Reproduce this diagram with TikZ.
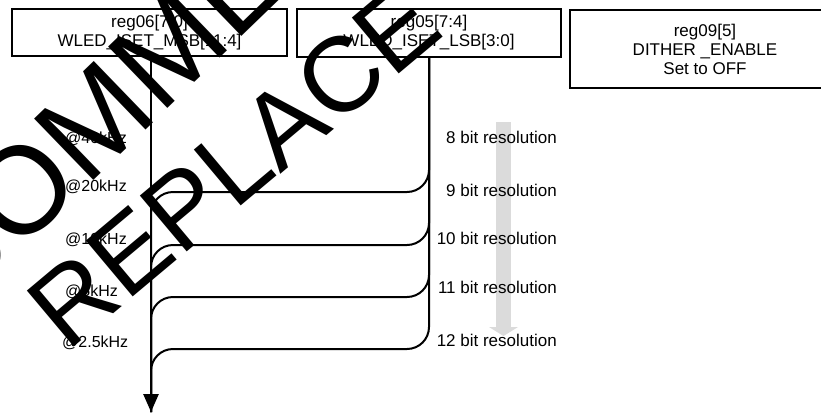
\documentclass[tikz,border=0pt]{standalone}
\usepackage{fontspec}
\setmainfont{Liberation Sans}
\usetikzlibrary{arrows.meta}
\begin{document}
\begin{tikzpicture}[x=1pt,y=-1pt,
  box/.style={draw, line width=2.4pt, inner sep=0pt, align=center, font=\fontsize{17}{19}\selectfont},
  lbl/.style={font=\fontsize{17}{19}\selectfont, inner sep=0pt, anchor=east},
  freq/.style={font=\fontsize{16}{18}\selectfont, inner sep=0pt, anchor=west},
  bus/.style={line width=2pt, rounded corners=22pt},
  wm/.style={inner sep=0pt}]
\useasboundingbox (0,0) rectangle (821,413);
\clip (0,0) rectangle (821,413);
\fill[white] (0,0) rectangle (821,413);
% gray arrow
\fill[gray!28] (496,122) rectangle (511,328);
\fill[gray!28] (489,327) -- (518,327) -- (503.5,336) -- cycle;
% boxes
\node[box, minimum width=275pt, minimum height=47pt] (b1) at (149.5,32.5) {reg06[7:0]\\WLED\_ISET\_MSB[11:4]};
\node[box, minimum width=264pt, minimum height=48pt] (b2) at (429,33) {reg05[7:4]\\WLED\_ISET\_LSB[3:0]};
\node[box, minimum width=270pt, minimum height=78pt] (b3) at (705,49) {reg09[5]\\DITHER \_ENABLE\\Set to OFF};
% coordinates
\coordinate (end) at (151,412);
\coordinate (r9) at (151,192);
\coordinate (r10) at (151,245);
\coordinate (r11) at (151,297);
\coordinate (r12) at (151,349);
% bus paths
\foreach \r in {r9,r10,r11,r12}{
  \draw[bus] (b2.south) -- (b2.south |- \r) -- (\r) -- (\r |- end);
}
% main arrow
\draw[line width=2.6pt, -{Triangle[length=18pt,width=15pt]}] (end |- b1.south) -- (end);
% labels
\node[lbl] (l8) at (557,137) {8 bit resolution};
\node[lbl] (l9) at (557,190) {9 bit resolution};
\node[lbl] (l10) at (557,238) {10 bit resolution};
\node[lbl] (l11) at (557,287) {11 bit resolution};
\node[lbl] (l12) at (557,340) {12 bit resolution};
\node[freq] (f40) at (65,139) {@40kHz};
\node[freq] (f20) at (65,187) {@20kHz};
\node[freq] (f10) at (65,240) {@10kHz};
\node[freq] (f5) at (65,292) {@5kHz};
\node[freq] (f25) at (62,343) {@2.5kHz};
% watermark
\node[wm, rotate=44, font=\fontsize{124}{124}\selectfont] (wc) at (153,63) {COMMENT};
\node[wm, rotate=40, font=\fontsize{106}{106}\selectfont] (wr) at (234,165) {REPLACE};
\end{tikzpicture}
\end{document}
